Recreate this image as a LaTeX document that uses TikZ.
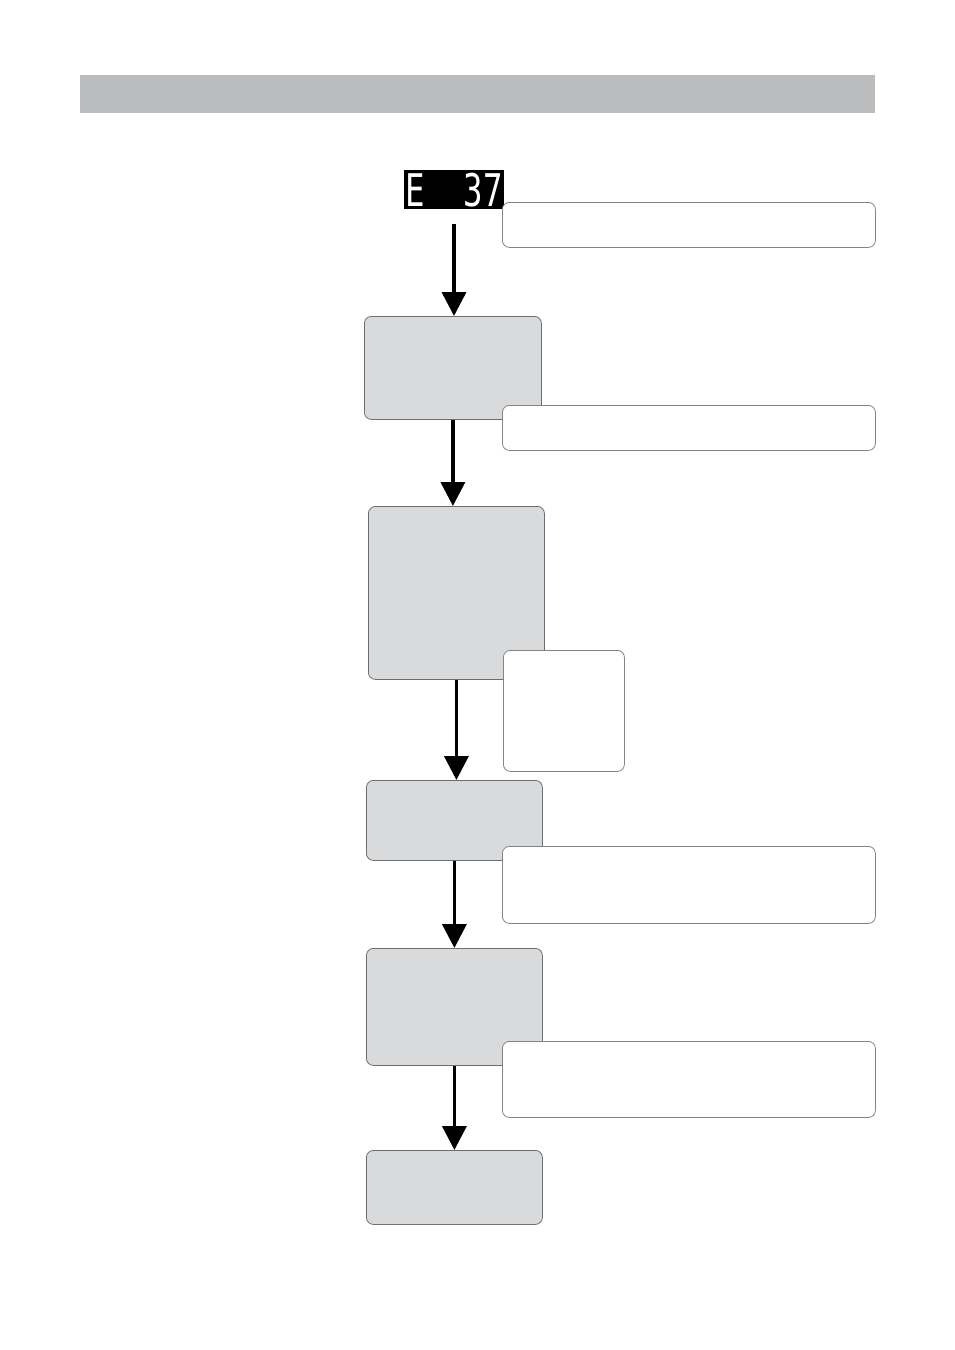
\documentclass[tikz,border=0pt]{standalone}
\usepackage{fontspec}
\newfontfamily\segfont[FakeStretch=0.72]{DejaVu Sans Mono}
\usetikzlibrary{arrows.meta}
\definecolor{barGrey}{HTML}{BBBCBE}
\definecolor{boxGrey}{HTML}{D9DADC}
\definecolor{edgeGrey}{HTML}{6D6E70}
\begin{document}
\begin{tikzpicture}[x=1pt,y=-1pt,
        stepbox/.style={draw=edgeGrey, line width=0.8pt, fill=boxGrey, rounded corners=7pt, anchor=north west, inner sep=0pt},
        notebox/.style={draw=edgeGrey!85, line width=0.8pt, fill=white, rounded corners=7pt, anchor=north west, inner sep=0pt},
        flow/.style={line width=3.5pt, -{Triangle[width=24pt,length=24pt]}}]
                \useasboundingbox (0,0) rectangle (954,1350);
                \fill[barGrey] (80,75) rectangle (875,113);
                % display
                \node[fill=black, anchor=north west, minimum width=100pt, minimum height=39pt, inner sep=0pt] (disp) at (404,170) {};
                \node[text=white, inner sep=0pt, font=\segfont\fontsize{45}{45}\selectfont] (code) at (disp.center) {E\ \ 37};
                % steps
                \node[stepbox, minimum width=177pt, minimum height=103pt] (s1) at (364,316) {};
                \node[stepbox, minimum width=176pt, minimum height=173pt] (s2) at (368,506) {};
                \node[stepbox, minimum width=176pt, minimum height=80pt] (s3) at (366,780) {};
                \node[stepbox, minimum width=176pt, minimum height=117pt] (s4) at (366,948) {};
                \node[stepbox, minimum width=176pt, minimum height=74pt] (s5) at (366,1150) {};
                % arrows
                \coordinate (a0) at (454,224);
                \draw[flow] (a0) -- (a0 |- s1.north);
                \draw[flow] (s1.south) -- (s1.south |- s2.north);
                \draw[flow] (s2.south) -- (s2.south |- s3.north);
                \draw[flow] (s3.south) -- (s3.south |- s4.north);
                \draw[flow] (s4.south) -- (s4.south |- s5.north);
                % notes
                \node[notebox, minimum width=373pt, minimum height=45pt] (n1) at (502,202) {};
                \node[notebox, minimum width=373pt, minimum height=45pt] (n2) at (502,405) {};
                \node[notebox, minimum width=121pt, minimum height=121pt] (n3) at (503,650) {};
                \node[notebox, minimum width=373pt, minimum height=77pt] (n4) at (502,846) {};
                \node[notebox, minimum width=373pt, minimum height=76pt] (n5) at (502,1041) {};
\end{tikzpicture}
\end{document}
